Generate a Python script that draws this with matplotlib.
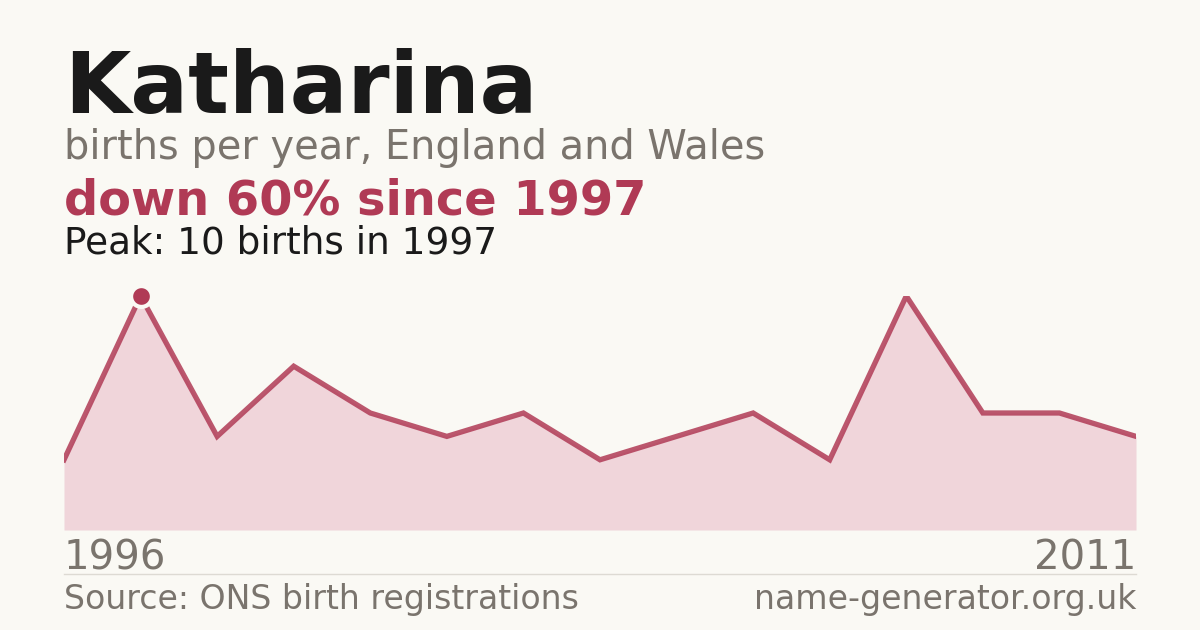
import matplotlib
matplotlib.use("Agg")
from matplotlib import pyplot as plt

# data (15 registered years, drawn evenly spaced)
years = [1996, 1997, 1998, 1999, 2000, 2001, 2002, 2003, 2004,
         2006, 2007, 2008, 2009, 2010, 2011]
births = [3, 10, 4, 7, 5, 4, 5, 3, 4, 5, 3, 10, 5, 5, 4]

name = "Katharina"
subtitle = "births per year, England and Wales"
headline = "down 60% since 1997"
peak_note = "Peak: 10 births in 1997"

BG = "#faf9f4"
RED = "#b03a55"
FILL = "#f0d5da"
GREY = "#7a746d"
DARK = "#1a1a1a"

plt.rcParams['font.family'] = ['DejaVu Sans']

fig = plt.figure(figsize=(12, 6.3), dpi=100, facecolor=BG)

# headings
fig.text(64/1200, 0.820, name, fontsize=61.6, fontweight='bold', color=DARK, va='baseline')
fig.text(64/1200, 0.747, subtitle, fontsize=28.7, color=GREY, va='baseline')
fig.text(64/1200, 0.660, headline, fontsize=34.5, fontweight='bold', color=RED, va='baseline')
fig.text(64/1200, 0.598, peak_note, fontsize=26.9, color=DARK, va='baseline')

# area chart
ax = fig.add_axes([64/1200, 100/630, 1072/1200, 234/630])
ax.set_facecolor(BG)
xs = list(range(len(births)))
ax.fill_between(xs, births, 0, color=FILL, linewidth=0)
ax.plot(xs, births, color=RED, linewidth=3.8, alpha=0.85, solid_joinstyle='miter')
peak_i = births.index(max(births))
ax.plot([xs[peak_i]], [births[peak_i]], 'o', markersize=15, color=RED,
        markeredgecolor=BG, markeredgewidth=3, clip_on=False, zorder=5)
ax.set_xlim(0, len(births) - 1)
ax.set_ylim(0, max(births))
ax.axis('off')

# x labels
fig.text(64/1200, 0.0968, str(years[0]), fontsize=29, color=GREY, va='baseline', ha='left')
fig.text(1136/1200, 0.0968, str(years[-1]), fontsize=29, color=GREY, va='baseline', ha='right')

# separator + footer
fig.add_artist(plt.Line2D([64/1200, 1136/1200], [56/630, 56/630], color="#dddad3", linewidth=1))
fig.text(64/1200, 0.0335, "Source: ONS birth registrations", fontsize=23.9, color=GREY, va='baseline')
fig.text(1136/1200, 0.0335, "name-generator.org.uk", fontsize=23.9, color=GREY, va='baseline', ha='right')

fig.savefig("out.png", dpi=100, facecolor=BG)
